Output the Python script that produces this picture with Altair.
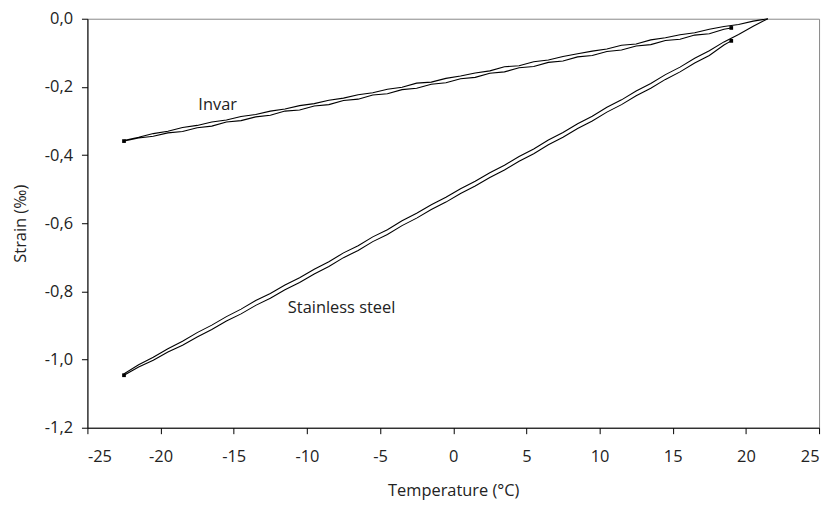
import altair as alt
import pandas as pd

# Invar: cooling branch (from start temperature down), then heating branch back up
invar_cool_t = [21.5, 20.5, 19.5, 18.5, 17.5, 16.5, 15.5, 14.5, 13.5, 12.5, 11.5, 10.5, 9.5, 8.5, 7.5,
                6.5, 5.5, 4.5, 3.5, 2.5, 1.5, 0.5, -0.5, -1.5, -2.5, -3.5, -4.5, -5.5, -6.5, -7.5,
                -8.5, -9.5, -10.5, -11.5, -12.5, -13.5, -14.5, -15.5, -16.5, -17.5, -18.5, -19.5,
                -20.5, -21.5, -22.5]
invar_cool_s = [0.000, -0.007, -0.017, -0.023, -0.031, -0.041, -0.047, -0.056, -0.062, -0.074, -0.078,
                -0.089, -0.095, -0.103, -0.111, -0.121, -0.126, -0.138, -0.141, -0.153, -0.159, -0.168,
                -0.175, -0.186, -0.189, -0.201, -0.207, -0.217, -0.223, -0.233, -0.239, -0.249, -0.255,
                -0.265, -0.271, -0.281, -0.287, -0.297, -0.303, -0.313, -0.319, -0.330, -0.337, -0.348,
                -0.357]
invar_heat_t = [-22.5, -21.5, -20.5, -19.5, -18.5, -17.5, -16.5, -15.5, -14.5, -13.5, -12.5, -11.5,
                -10.5, -9.5, -8.5, -7.5, -6.5, -5.5, -4.5, -3.5, -2.5, -1.5, -0.5, 0.5, 1.5, 2.5, 3.5,
                4.5, 5.5, 6.5, 7.5, 8.5, 9.5, 10.5, 11.5, 12.5, 13.5, 14.5, 15.5, 16.5, 17.5, 18.5, 19.0]
invar_heat_s = [-0.359, -0.350, -0.345, -0.335, -0.331, -0.320, -0.315, -0.303, -0.299, -0.288, -0.283,
                -0.271, -0.268, -0.256, -0.252, -0.240, -0.236, -0.224, -0.220, -0.208, -0.204, -0.192,
                -0.188, -0.176, -0.172, -0.160, -0.156, -0.144, -0.140, -0.128, -0.124, -0.112, -0.108,
                -0.096, -0.092, -0.080, -0.076, -0.064, -0.060, -0.048, -0.044, -0.031, -0.027]

# Stainless steel
steel_cool_t = invar_cool_t
steel_cool_s = [0.000, -0.022, -0.046, -0.068, -0.094, -0.116, -0.142, -0.164, -0.190, -0.212, -0.238,
                -0.260, -0.286, -0.308, -0.334, -0.356, -0.382, -0.404, -0.430, -0.452, -0.477, -0.499,
                -0.524, -0.546, -0.571, -0.593, -0.619, -0.640, -0.666, -0.687, -0.713, -0.735, -0.760,
                -0.781, -0.806, -0.827, -0.852, -0.874, -0.899, -0.921, -0.946, -0.968, -0.993, -1.015,
                -1.042]
steel_heat_t = invar_heat_t
steel_heat_s = [-1.046, -1.022, -1.002, -0.978, -0.958, -0.934, -0.912, -0.887, -0.866, -0.841, -0.820,
                -0.795, -0.774, -0.749, -0.727, -0.701, -0.680, -0.654, -0.633, -0.607, -0.585, -0.560,
                -0.538, -0.513, -0.491, -0.466, -0.444, -0.418, -0.396, -0.370, -0.348, -0.322, -0.300,
                -0.274, -0.252, -0.226, -0.204, -0.178, -0.156, -0.130, -0.108, -0.077, -0.065]

x_ticks = [-25, -20, -15, -10, -5, 0, 5, 10, 15, 20, 25]
y_ticks = [-1.2, -1.0, -0.8, -0.6, -0.4, -0.2, 0.0]

labels = ["Invar", "Stainless steel"]
label_t = [-16.1, -7.63]
label_s = [-0.252, -0.848]

rows = []
for name, ct, cs, ht, hs in [("Invar", invar_cool_t, invar_cool_s, invar_heat_t, invar_heat_s),
                             ("Steel", steel_cool_t, steel_cool_s, steel_heat_t, steel_heat_s)]:
    i = 0
    for t, s in zip(ct, cs):
        rows.append({"mat": name, "t": t, "s": s, "o": i}); i += 1
    for t, s in zip(ht, hs):
        rows.append({"mat": name, "t": t, "s": s, "o": i}); i += 1
df = pd.DataFrame(rows)

ends = pd.DataFrame({
    "t": [invar_heat_t[0], invar_heat_t[-1], steel_heat_t[0], steel_heat_t[-1]],
    "s": [invar_heat_s[0], invar_heat_s[-1], steel_heat_s[0], steel_heat_s[-1]],
})
lab = pd.DataFrame({"label": labels, "t": label_t, "s": label_s})

FONT = "Open Sans"
FS = 16.5
xs = alt.Scale(domain=[-25, 25], nice=False, zero=False)
ys = alt.Scale(domain=[-1.2, 0.0], nice=False, zero=False)

xax = alt.Axis(values=x_ticks, title="Temperature (°C)", grid=False, domainColor="black",
               tickColor="black", tickSize=6, labelPadding=15, titlePadding=18,
               labelExpr="(datum.value < 0 ? '-' : '') + abs(datum.value)")
yax = alt.Axis(values=y_ticks, title="Strain (‰)", grid=False, domainColor="black",
               tickColor="black", tickSize=6, labelPadding=9, titlePadding=16,
               labelExpr="(datum.value < -0.0001 ? '-' : '') + replace(format(abs(datum.value), '.1f'), '.', ',')")

lines = alt.Chart(df).mark_line(color="black", strokeWidth=1.1).encode(
    x=alt.X("t:Q", scale=xs, axis=xax),
    y=alt.Y("s:Q", scale=ys, axis=yax),
    detail="mat:N",
    order="o:Q",
)
pts = alt.Chart(ends).mark_point(shape="square", filled=True, color="black", size=14, opacity=1).encode(
    x=alt.X("t:Q", scale=xs), y=alt.Y("s:Q", scale=ys))
txt = alt.Chart(lab).mark_text(font=FONT, fontSize=FS, color="#222", align="center", baseline="middle").encode(
    x=alt.X("t:Q", scale=xs), y=alt.Y("s:Q", scale=ys), text="label:N")

chart = alt.layer(lines, pts, txt).properties(
    width=737, height=412,
    autosize=alt.AutoSizeParams(type="none"),
    padding={"left": 80, "top": 9, "right": 8, "bottom": 72},
).configure_view(stroke="#888888", strokeWidth=1).configure_axis(
    labelFont=FONT, titleFont=FONT, labelFontSize=FS, titleFontSize=FS,
    labelColor="#222", titleColor="#222", titleFontWeight="normal", domainWidth=1,
)

chart.save("out.html", embed_options={"renderer": "svg", "actions": False})
